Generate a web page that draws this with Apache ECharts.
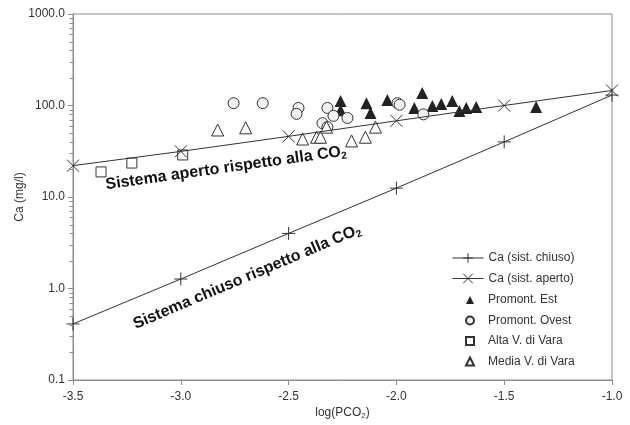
<!DOCTYPE html>
<html><head><meta charset="utf-8">
<script src="https://cdn.jsdelivr.net/npm/echarts@6/dist/echarts.min.js"></script>
<style>html,body{margin:0;padding:0;background:#fff}#c{width:630px;height:425px}</style>
</head><body><div id="c"></div>
<script>
// log(PCO2) grid for the model lines
const modelX = [-3.5, -3.0, -2.5, -2.0, -1.5, -1.0];
const caChiuso = [0.41, 1.27, 4.0, 12.5, 40, 130];
const caAperto = [22, 31.5, 46, 68, 100, 146];

const promEstX = [-2.259, -2.259, -2.139, -2.12, -2.042, -1.917, -1.88, -1.833, -1.792, -1.741, -1.708, -1.676, -1.63, -1.352];
const promEstY = [112, 89, 106, 83, 115, 94, 137, 99, 104, 112, 87, 94, 96, 96];

const promOvestX = [-2.755, -2.62, -2.454, -2.463, -2.32, -2.292, -2.227, -2.343, -2.32, -1.995, -1.985, -1.875];
const promOvestY = [106, 106, 94, 81, 94, 77, 73, 64, 58, 106, 102, 80];

const altaX = [-3.37, -3.227, -2.991];
const altaY = [18.8, 23.5, 28.8];

const mediaX = [-2.829, -2.699, -2.435, -2.37, -2.352, -2.324, -2.208, -2.144, -2.097];
const mediaY = [54, 57, 43, 45, 45, 58, 41, 45, 58];

// y-axis decades and minor-tick multipliers (log axis)
const yDecades = [0.1, 1, 10, 100];
const minorMult = [2, 3, 4, 5, 6, 7, 8, 9];

const pair = (xs, ys) => xs.map((x, i) => [x, ys[i]]);
const minorTicks = [];
yDecades.forEach(d => minorMult.forEach(m => minorTicks.push([-3.5, +(d * m).toPrecision(3)])));

const ink = '#333';
const axisCol = '#8c8c8c';
const font = 'Liberation Sans, Arial, sans-serif';

const chart = echarts.init(document.getElementById('c'), null, {renderer: 'canvas'});
chart.setOption({
  animation: false,
  backgroundColor: '#fff',
  grid: {left: 73, right: 18, top: 14, bottom: 45, show: true, borderColor: axisCol, borderWidth: 1},
  xAxis: {
    type: 'value', min: -3.5, max: -1.0, interval: 0.5,
    name: 'log(PCO{s|2})', nameLocation: 'middle', nameGap: 26, nameMoveOverlap: false,
    nameTextStyle: {color: ink, fontSize: 12, fontFamily: font, rich: {s: {fontSize: 8, verticalAlign: 'bottom', padding: [6,0,0,0], color: ink, fontFamily: font}}},
    axisLine: {lineStyle: {color: axisCol}},
    axisTick: {show: true, length: 5, lineStyle: {color: axisCol}},
    axisLabel: {color: ink, fontSize: 12, fontFamily: font, margin: 11, formatter: v => v.toFixed(1)},
    splitLine: {show: false}
  },
  yAxis: {
    type: 'log', logBase: 10, min: 0.1, max: 1000,
    name: 'Ca (mg/l)', nameLocation: 'middle', nameGap: 47, nameMoveOverlap: false,
    nameTextStyle: {color: ink, fontSize: 12, fontFamily: font},
    axisLine: {show: true, lineStyle: {color: axisCol}},
    axisTick: {show: true, length: 5, lineStyle: {color: axisCol}},
    axisLabel: {color: ink, fontSize: 12, fontFamily: font, margin: 8, formatter: v => Number(v).toFixed(1)},
    splitLine: {show: false}
  },
  legend: [{
    orient: 'vertical', left: 447, top: 247, itemWidth: 31, itemHeight: 12, itemGap: 8.5,
    lineStyle: {width: 1, color: ink},
    itemStyle: {borderWidth: 1, borderColor: ink, color: 'transparent'},
    textStyle: {color: ink, fontSize: 12, fontFamily: font},
    data: ['Ca (sist. chiuso)', 'Ca (sist. aperto)']
  }, {
    orient: 'vertical', left: 460, top: 289, itemWidth: 8, itemHeight: 8, itemGap: 8.5,
    textStyle: {color: ink, fontSize: 12, fontFamily: font, padding: [0, 0, 0, 9]},
    data: ['Promont. Est', 'Promont. Ovest', 'Alta V. di Vara', 'Media V. di Vara']
  }],
  series: [
    {name: 'Ca (sist. chiuso)', type: 'line', data: pair(modelX, caChiuso),
     symbol: 'path://M5,0L5,10M0,5L10,5', symbolSize: 13, showAllSymbol: true,
     lineStyle: {color: ink, width: 1}, itemStyle: {color: 'transparent', borderColor: ink, borderWidth: 1}},
    {name: 'Ca (sist. aperto)', type: 'line', data: pair(modelX, caAperto),
     symbol: 'path://M0,0L10,10M10,0L0,10', symbolSize: 12, showAllSymbol: true,
     lineStyle: {color: ink, width: 1}, itemStyle: {color: 'transparent', borderColor: ink, borderWidth: 1}},
    {name: 'Promont. Est', type: 'scatter', data: pair(promEstX, promEstY), symbol: 'triangle', symbolSize: 12,
     itemStyle: {color: '#222', borderWidth: 0, opacity: 1}},
    {name: 'Promont. Ovest', type: 'scatter', data: pair(promOvestX, promOvestY), symbol: 'circle', symbolSize: 11,
     itemStyle: {color: '#f0f0f0', borderColor: ink, borderWidth: 1, opacity: 1}},
    {name: 'Alta V. di Vara', type: 'scatter', data: pair(altaX, altaY), symbol: 'rect', symbolSize: 10,
     itemStyle: {color: '#fff', borderColor: ink, borderWidth: 1, opacity: 1}},
    {name: 'Media V. di Vara', type: 'scatter', data: pair(mediaX, mediaY), symbol: 'triangle', symbolSize: 12,
     itemStyle: {color: '#fff', borderColor: ink, borderWidth: 1, opacity: 1}},
    {name: 'minor', type: 'custom', data: minorTicks, clip: false, silent: true, z: 5,
     encode: {x: 0, y: 1},
     renderItem: (params, api) => {
       const p = api.coord([api.value(0), api.value(1)]);
       return {type: 'line', shape: {x1: p[0] - 3.5, y1: Math.round(p[1]) + 0.5, x2: p[0], y2: Math.round(p[1]) + 0.5}, style: {stroke: axisCol, lineWidth: 1}};
     }}
  ],
  graphic: [
    {type: 'text', x: 226, y: 168, rotation: 8 * Math.PI / 180,
     style: {text: 'Sistema aperto rispetto alla CO{s|2}', fill: '#111', font: 'bold 16px ' + font, align: 'center', verticalAlign: 'middle',
             rich: {s: {font: 'bold 10px ' + font, fill: '#111', padding: [9,0,0,0]}}}},
    {type: 'text', x: 247, y: 277, rotation: 23 * Math.PI / 180,
     style: {text: 'Sistema chiuso rispetto alla CO{s|2}', fill: '#111', font: 'bold 16px ' + font, align: 'center', verticalAlign: 'middle',
             rich: {s: {font: 'bold 10px ' + font, fill: '#111', padding: [9,0,0,0]}}}}
  ]
});
</script></body></html>
